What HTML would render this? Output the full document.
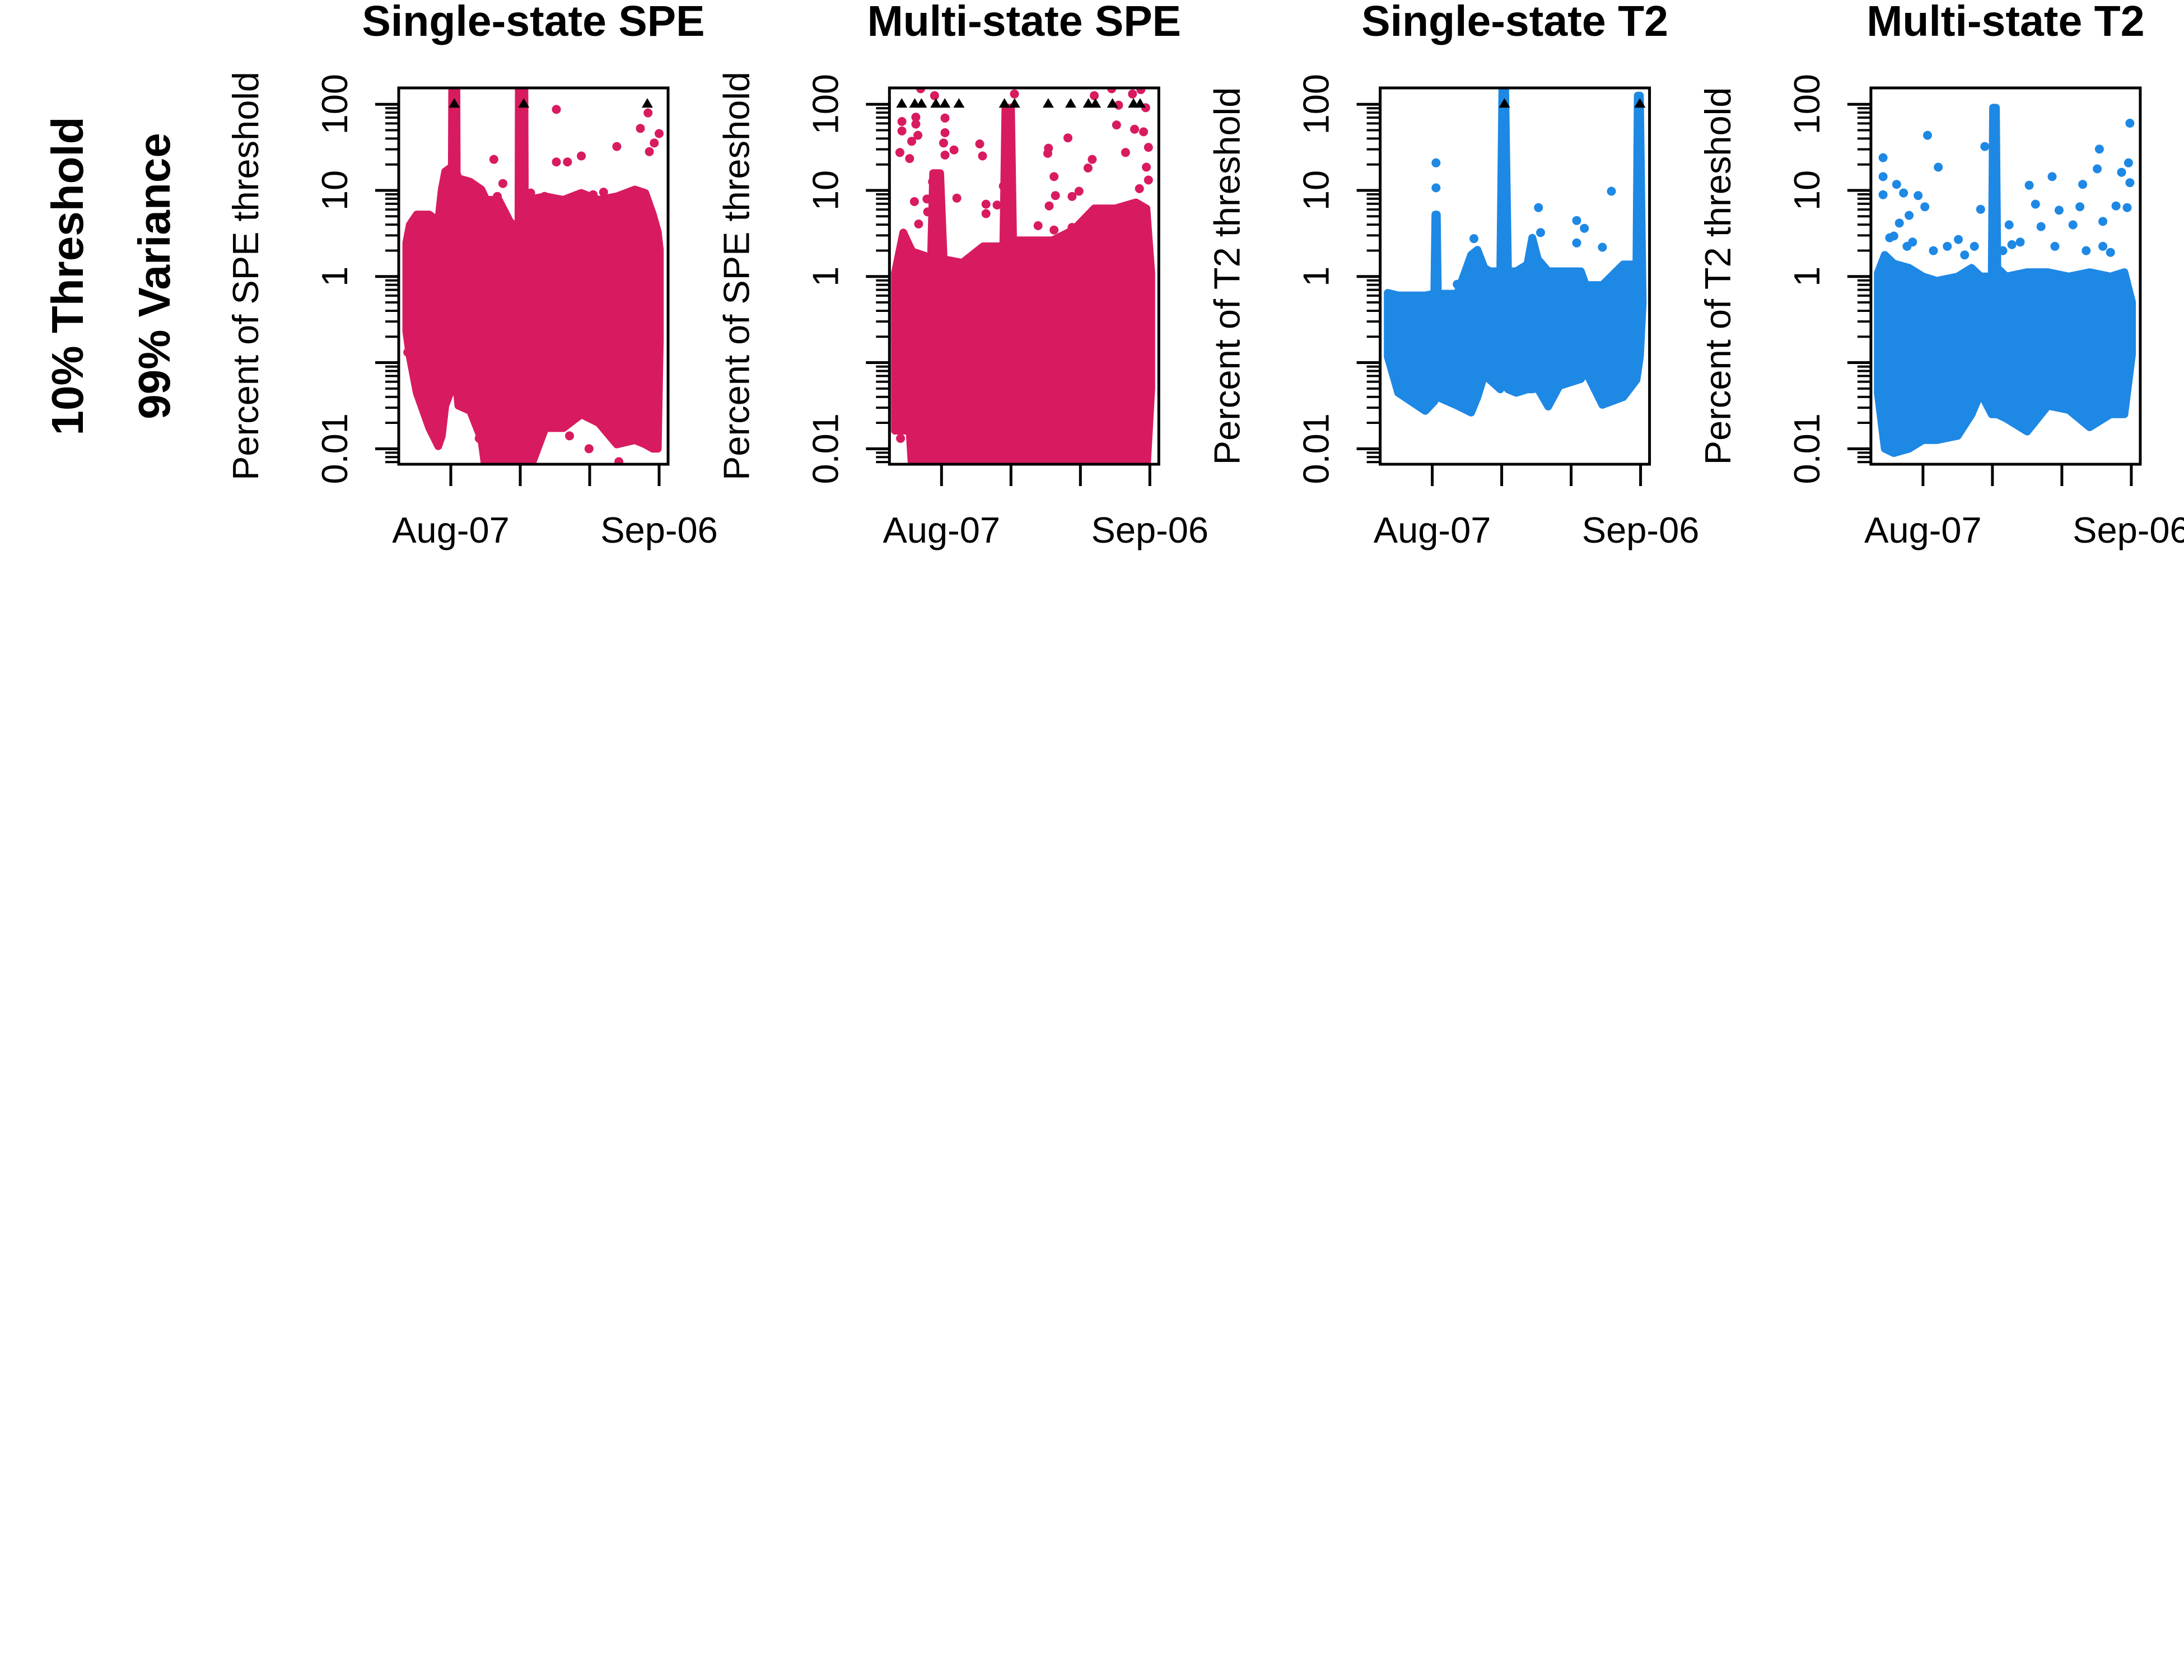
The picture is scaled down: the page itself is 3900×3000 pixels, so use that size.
<!DOCTYPE html>
<html>
<head>
<meta charset="utf-8">
<style>
html,body{margin:0;padding:0;background:#fff;}
svg{display:block;}
text{font-family:"Liberation Sans",Arial,sans-serif;}
</style>
</head>
<body>
<svg id="chart" xmlns="http://www.w3.org/2000/svg" width="3900" height="3000" viewBox="0 0 3900 3000">
<rect x="0" y="0" width="3900" height="3000" fill="#ffffff"/>
<text transform="translate(148,493) rotate(-90)" text-anchor="middle" font-size="80" font-weight="bold">10% Threshold</text>
<text transform="translate(303,493) rotate(-90)" text-anchor="middle" font-size="80" font-weight="bold">99% Variance</text>
</svg>
<script>
// ---- shared axis data ----
const xTickDays = [0, 10, 20, 30];
const xTickLabels = ["Aug-07", "", "", "Sep-06"];
const yTickValues = [100, 10, 1, 0.1, 0.01];
const yTickLabels = ["100", "10", "1", "", "0.01"];
const panelTitles = ["Single-state SPE", "Multi-state SPE", "Single-state T2", "Multi-state T2"];
const panelYTitles = ["Percent of SPE threshold", "Percent of SPE threshold", "Percent of T2 threshold", "Percent of T2 threshold"];
const panelColors = ["#D81B60", "#D81B60", "#1E88E5", "#1E88E5"];

// ---- panel 1: single-state SPE (values are log10 of percent) ----
const p1BandDays = [-6.4,-5.9,-4.9,-3.1,-1.8,-1.3,-0.8,-0.1,0.15,0.2,0.8,0.85,1.1,2.8,4.4,5.1,5.4,5.9,6.9,8.5,9.5,9.75,9.8,10.6,10.65,11.1,13.6,16.2,18.8,21.3,23.9,26.5,28.0,29.1,29.8,30.1];
const p1BandHigh = [0.39,0.60,0.72,0.72,0.64,1.01,1.22,1.26,1.26,2.17,2.17,1.2,1.14,1.10,1.01,0.89,0.89,0.89,0.89,0.64,0.56,0.56,2.17,2.17,0.89,0.89,0.93,0.89,0.97,0.89,0.93,1.01,0.97,0.72,0.52,0.31];
const p1BandLow = [-0.64,-0.93,-1.35,-1.76,-1.97,-1.85,-1.5,-1.35,-1.0,-0.73,-0.8,-1.3,-1.5,-1.56,-1.89,-2.3,-2.3,-2.3,-2.3,-2.3,-2.3,-2.3,-2.3,-2.3,-2.3,-2.3,-1.76,-1.76,-1.6,-1.7,-1.95,-1.9,-1.95,-2.0,-2.0,-0.73];
const p1OutDays = [15.2,6.2,18.8,15.2,16.8,23.9,27.3,30.0,29.3,28.6,7.5,6.7,11.5,13.5,20.5,22.0,-0.6,19.9,17.1,4.1,12.6,24.2,-6.2,28.4];
const p1OutLog = [1.94,1.36,1.40,1.33,1.33,1.51,1.72,1.66,1.55,1.45,1.08,0.93,0.97,0.93,0.95,0.98,1.0,-2.0,-1.85,-1.88,-1.81,-2.15,-0.88,1.9];
const p1Flags = [0.5, 10.5, 28.3];

// ---- panel 2: multi-state SPE ----
const p2BandDays = [-6.7,-5.5,-4.6,-4.2,-2,-1.5,-1.2,-0.2,0.3,3,6,8.9,9.2,10.0,10.3,13,16,19,22,25,28,29.5,30.2];
const p2BandHigh = [0.04,0.51,0.35,0.29,0.23,0.23,1.20,1.20,0.20,0.16,0.35,0.35,1.96,1.96,0.42,0.42,0.42,0.54,0.79,0.79,0.86,0.79,0.04];
const p2BandLow = [-1.79,-1.79,-1.79,-2.3,-2.3,-2.3,-2.3,-2.3,-2.3,-2.3,-2.3,-2.3,-2.3,-2.3,-2.3,-2.3,-2.3,-2.3,-2.3,-2.3,-2.3,-2.3,-1.3];
const p2OutDays = [-5.7,-5.7,-6.0,-4.6,-4.3,-3.7,-3.7,-3.4,0.5,0.5,0.3,0.5,1.8,-1.3,-3.9,-2.1,-1.3,-2.0,-3.3,2.2,5.5,5.9,8.9,6.4,6.4,8.0,15.4,15.3,16.2,16.4,15.5,18.2,18.8,19.8,21.7,21.1,25.2,27.8,29.1,29.8,26.5,29.5,29.8,28.5,25.5,29.4,-3.0,-1.0,10.5,22.0,24.5,27.5,28.7,-5.9,20.0,13.9,16.2,18.8];
const p2OutLog = [1.80,1.69,1.44,1.37,1.57,1.85,1.77,1.64,1.84,1.67,1.55,1.41,1.47,1.10,0.87,0.90,0.87,0.75,0.61,0.91,1.54,1.40,1.05,0.84,0.73,0.83,1.49,1.43,1.16,0.94,0.82,1.61,0.93,0.99,1.36,1.26,1.76,1.71,1.68,1.50,1.44,1.27,1.12,1.02,1.99,1.96,2.18,2.10,2.12,2.10,2.18,2.12,2.17,-1.88,0.61,0.59,0.54,0.57];
const p2Flags = [-5.73,-3.85,-2.89,-0.81,0.48,2.51,9.06,10.52,15.37,18.6,21.15,22.16,24.62,27.65,28.6];

// ---- panel 3: single-state T2 ----
const p3BandDays = [-6.4,-4.9,-1.0,0.3,0.45,0.65,0.8,3.6,5.6,6.5,7.5,8.3,9.8,10.1,10.5,10.9,12.1,13.7,14.4,15.2,16.7,18.3,21.4,22.1,24.5,27.5,29.4,29.6,29.9,30.3];
const p3BandHigh = [-0.19,-0.22,-0.22,-0.2,0.72,0.72,-0.2,-0.2,0.25,0.31,0.1,0.06,0.06,2.17,2.17,0.06,0.06,0.14,0.45,0.2,0.06,0.06,0.06,-0.1,-0.1,0.14,0.14,2.1,2.1,-0.3];
const p3BandLow = [-0.93,-1.35,-1.56,-1.45,-1.4,-1.4,-1.4,-1.50,-1.58,-1.4,-1.14,-1.2,-1.31,-1.25,-1.25,-1.31,-1.35,-1.31,-1.31,-1.3,-1.51,-1.27,-1.19,-1.1,-1.49,-1.40,-1.2,-1.1,-0.93,-0.31];
const p3OutDays = [0.54,0.54,10.3,10.3,15.3,15.6,20.8,21.9,20.8,6.0,25.8,24.5,3.6,29.7,29.7];
const p3OutLog = [1.32,1.03,1.19,1.0,0.80,0.51,0.65,0.56,0.39,0.44,0.99,0.34,-0.09,1.3,1.0];
const p3Flags = [10.4, 29.9];

// ---- panel 4: multi-state T2 ----
const p4BandDays = [-6.5,-5.5,-4.2,-2,0,2,5,7,8.3,9.9,10.1,10.5,10.7,12,15,18,21,24,27,29,30.1];
const p4BandHigh = [0.04,0.25,0.15,0.1,0.0,-0.05,0.0,0.1,0.0,0.0,1.96,1.96,0.1,0.0,0.05,0.05,0.0,0.05,0.0,0.05,-0.3];
const p4BandLow = [-1.35,-2.0,-2.05,-2.0,-1.9,-1.9,-1.85,-1.6,-1.35,-1.6,-1.6,-1.6,-1.6,-1.65,-1.8,-1.5,-1.55,-1.75,-1.6,-1.6,-0.9];
const p4OutDays = [-5.75,-5.75,-5.75,0.65,2.2,-3.8,-2.8,-2.0,-0.7,0.27,-3.4,8.9,10.5,10.3,15.3,18.6,23.0,25.4,25.1,28.6,29.6,29.8,29.8,8.3,16.2,19.6,22.6,27.8,12.4,17.0,21.6,25.9,29.4,-4.2,-2.3,5.1,12.8,25.9,7.4,-4.8,-1.5,1.5,3.5,6.0,11.5,14.0,19.0,23.5,27.0];
const p4OutLog = [1.38,1.16,0.95,1.64,1.27,1.07,0.97,0.71,0.94,0.81,0.62,1.51,1.24,1.06,1.06,1.16,1.07,1.48,1.25,1.21,1.32,1.09,1.78,0.78,0.84,0.77,0.81,0.82,0.60,0.58,0.60,0.64,0.80,0.47,0.35,0.43,0.37,0.35,0.35,0.45,0.40,0.30,0.35,0.25,0.30,0.40,0.35,0.30,0.28];
const p4Flags = [];

const panels = [
  {days:p1BandDays, hi:p1BandHigh, lo:p1BandLow, od:p1OutDays, ol:p1OutLog, flags:p1Flags},
  {days:p2BandDays, hi:p2BandHigh, lo:p2BandLow, od:p2OutDays, ol:p2OutLog, flags:p2Flags},
  {days:p3BandDays, hi:p3BandHigh, lo:p3BandLow, od:p3OutDays, ol:p3OutLog, flags:p3Flags},
  {days:p4BandDays, hi:p4BandHigh, lo:p4BandLow, od:p4OutDays, ol:p4OutLog, flags:p4Flags}
];

const NS = "http://www.w3.org/2000/svg";
const svg = document.getElementById("chart");
const LEFT0 = 712, STEP = 876.3, BOXW = 481, TOP = 157, BOTTOM = 829;
const LOGMIN = -2.18, LOGMAX = 2.19;
function boxLeft(k){ return LEFT0 + k*STEP; }
function xScale(k, day){ return boxLeft(k) + 93 + 12.4*day; }
function yScale(lg){ return BOTTOM - (lg - LOGMIN) * (BOTTOM - TOP) / (LOGMAX - LOGMIN); }
function mk(tag, attrs, parent){
  const e = document.createElementNS(NS, tag);
  for (const a in attrs) e.setAttribute(a, attrs[a]);
  (parent || svg).appendChild(e);
  return e;
}

const defs = mk("defs", {});
panels.forEach((p, k) => {
  const L = boxLeft(k);
  const color = panelColors[k];
  const g = mk("g", {});
  
  

  const cp = mk("clipPath", {id: "clip" + k}, defs);
  mk("rect", {x: L, y: TOP, width: BOXW, height: BOTTOM - TOP}, cp);

  const plot = mk("g", {"clip-path": "url(#clip" + k + ")"}, g);
  
  

  let pts = [];
  for (let i = 0; i < p.days.length; i++) pts.push(xScale(k, p.days[i]).toFixed(1) + "," + yScale(p.hi[i]).toFixed(1));
  for (let i = p.days.length - 1; i >= 0; i--) pts.push(xScale(k, p.days[i]).toFixed(1) + "," + yScale(p.lo[i]).toFixed(1));
  const band = mk("polygon", {points: pts.join(" "), fill: color, stroke: color, "stroke-width": 14, "stroke-linejoin": "round"}, plot);
  
  

  for (let i = 0; i < p.od.length; i++) {
    const c = mk("circle", {cx: xScale(k, p.od[i]).toFixed(1), cy: yScale(p.ol[i]).toFixed(1), r: 8, fill: color}, plot);
    
    
  }
  for (let i = 0; i < p.flags.length; i++) {
    const cx = xScale(k, p.flags[i]), cy = yScale(2) - 2;
    const t = mk("polygon", {points: (cx-10)+","+(cy+8)+" "+(cx+10)+","+(cy+8)+" "+cx+","+(cy-9), fill: "#000"}, plot);
    
    
  }

  const box = mk("rect", {x: L, y: TOP, width: BOXW, height: BOTTOM - TOP, fill: "none", stroke: "#000", "stroke-width": 5}, g);
  
  

  for (let d = -3; d <= 2; d++) {
    for (let m = 1; m <= 9; m++) {
      const lg = d + Math.log10(m);
      if (lg < LOGMIN || lg > LOGMAX) continue;
      const y = yScale(lg);
      const len = (m === 1) ? 42 : 24;
      const tk = mk("line", {x1: L, x2: L - len, y1: y, y2: y, stroke: "#000", "stroke-width": m === 1 ? 5 : 4}, g);
      
      
    }
  }
  yTickValues.forEach((v, i) => {
    if (!yTickLabels[i]) return;
    const y = yScale(Math.log10(v));
    const t = mk("text", {transform: "translate(" + (L - 92) + "," + y.toFixed(1) + ") rotate(-90)", "text-anchor": "middle", "font-size": 65}, g);
    t.textContent = yTickLabels[i];
    
    
  });

  xTickDays.forEach((d, i) => {
    const x = xScale(k, d);
    const tk = mk("line", {x1: x, x2: x, y1: BOTTOM, y2: 868, stroke: "#000", "stroke-width": 5}, g);
    
    
    if (xTickLabels[i]) {
      const t = mk("text", {x: x, y: 969, "text-anchor": "middle", "font-size": 65}, g);
      t.textContent = xTickLabels[i];
      
      
    }
  });

  const title = mk("text", {x: L + BOXW/2, y: 64, "text-anchor": "middle", "font-size": 77, "font-weight": "bold"}, g);
  title.textContent = panelTitles[k];
  
  

  const yt = mk("text", {transform: "translate(" + (L - 251) + "," + ((TOP + BOTTOM)/2).toFixed(1) + ") rotate(-90)", "text-anchor": "middle", "font-size": 65}, g);
  yt.textContent = panelYTitles[k];
  
  
});
</script>
</body>
</html>
